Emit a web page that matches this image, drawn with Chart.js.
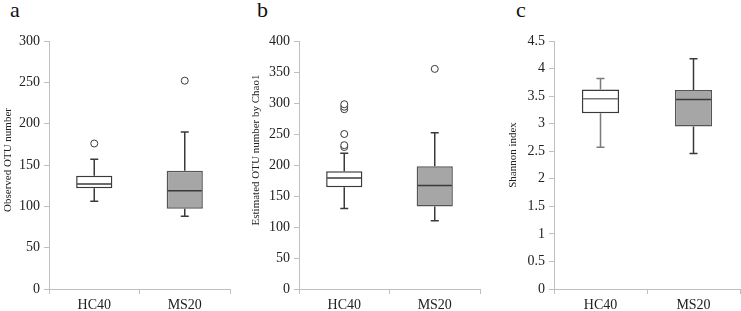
<!DOCTYPE html>
<html><head><meta charset="utf-8">
<script src="https://cdn.jsdelivr.net/npm/chart.js@4"></script>
<style>
html,body{margin:0;padding:0;background:#fff;}
body{width:741px;height:311px;position:relative;overflow:hidden;}
.pane{position:absolute;top:0;height:311px;}
.letter{position:absolute;top:-1px;font:22px/22px 'Liberation Serif',serif;color:#111;}
</style></head><body>
<div class="letter" style="left:10px">a</div>
<div class="letter" style="left:257px">b</div>
<div class="letter" style="left:516px">c</div>
<div class="pane" style="left:0;width:245px"><canvas id="c1" width="245" height="311"></canvas></div>
<div class="pane" style="left:245px;width:250px"><canvas id="c2" width="250" height="311"></canvas></div>
<div class="pane" style="left:500px;width:241px"><canvas id="c3" width="241" height="311"></canvas></div>
<script>
const categories = ['HC40', 'MS20'];

const otuMin = [106, 88];
const otuQ1 = [122, 97];
const otuMedian = [127, 119];
const otuQ3 = [137, 143];
const otuMax = [157, 190];
const otuOutliers = [[176], [252]];
const otuTicks = [0, 50, 100, 150, 200, 250, 300];

const chaoMin = [130, 110];
const chaoQ1 = [164, 133];
const chaoMedian = [179, 167];
const chaoQ3 = [190, 198];
const chaoMax = [219, 252];
const chaoOutliers = [[229, 232, 250, 290, 294, 298], [355]];
const chaoTicks = [0, 50, 100, 150, 200, 250, 300, 350, 400];

const shannonMin = [2.57, 2.46];
const shannonQ1 = [3.19, 2.95];
const shannonMedian = [3.45, 3.44];
const shannonQ3 = [3.62, 3.61];
const shannonMax = [3.82, 4.18];
const shannonOutliers = [[], []];
const shannonTicks = [0, 0.5, 1, 1.5, 2, 2.5, 3, 3.5, 4, 4.5];

const AXIS = '#bfbfbf';
const TEXT = '#222222';
const FONT = "'Liberation Serif', 'Times New Roman', serif";

function boxPlugin(st, title, titleX, titleY, whiskerColors) {
  return {
    id: 'boxparts',
    afterDatasetsDraw(chart) {
      const ctx = chart.ctx, xs = chart.scales.x, ys = chart.scales.y;
      const meta = chart.getDatasetMeta(0);
      ctx.save();
      ctx.lineWidth = 1.5;
      const cap = 4;
      st.median.forEach((m, i) => {
        const bar = meta.data[i];
        const cx = xs.getPixelForValue(i);
        const half = bar.width / 2;
        const yq3 = ys.getPixelForValue(st.q3[i]);
        const yq1 = ys.getPixelForValue(st.q1[i]);
        const yMax = ys.getPixelForValue(st.max[i]);
        const yMin = ys.getPixelForValue(st.min[i]);
        const yMed = ys.getPixelForValue(m);
        ctx.strokeStyle = whiskerColors[i];
        ctx.beginPath();
        ctx.moveTo(cx, yq3); ctx.lineTo(cx, yMax);
        ctx.moveTo(cx - cap, yMax); ctx.lineTo(cx + cap, yMax);
        ctx.moveTo(cx, yq1); ctx.lineTo(cx, yMin);
        ctx.moveTo(cx - cap, yMin); ctx.lineTo(cx + cap, yMin);
        ctx.stroke();
        ctx.beginPath();
        ctx.moveTo(cx - half + 1, yMed); ctx.lineTo(cx + half - 1, yMed);
        ctx.stroke();
      });
      ctx.translate(titleX, titleY);
      ctx.rotate(-Math.PI / 2);
      ctx.font = "11px " + FONT;
      ctx.fillStyle = TEXT;
      ctx.textAlign = 'center';
      ctx.textBaseline = 'middle';
      ctx.fillText(title, 0, 0);
      ctx.restore();
    }
  };
}

function makeChart(id, st, ticks, title, lay) {
  const outPts = [];
  st.outliers.forEach((arr, i) => arr.forEach(v => outPts.push({x: categories[i], y: v})));
  new Chart(document.getElementById(id), {
    type: 'bar',
    data: {
      labels: categories,
      datasets: [{
        data: st.q1.map((v, i) => [v, st.q3[i]]),
        backgroundColor: ['#ffffff', '#a6a6a6'],
        borderColor: ['#3a3a3a', '#555555'],
        borderWidth: 1.5,
        borderSkipped: false,
        barPercentage: 0.4,
        categoryPercentage: 1
      }, {
        type: 'line',
        data: outPts,
        showLine: false,
        pointRadius: 3.5,
        pointBorderWidth: 1,
        pointBorderColor: '#3a3a3a',
        pointBackgroundColor: '#ffffff'
      }]
    },
    options: {
      responsive: false,
      animation: false,
      layout: {padding: {top: 41, right: lay.padRight, left: 0, bottom: 0}},
      plugins: {legend: {display: false}, tooltip: {enabled: false}},
      scales: {
        x: {
          type: 'category',
          offset: true,
          grid: {display: true, drawOnChartArea: false, drawTicks: true, tickLength: 5, offset: true, color: AXIS, lineWidth: 1},
          border: {display: true, color: AXIS, width: 1},
          ticks: {font: {family: FONT, size: 14}, color: TEXT, padding: 3, maxRotation: 0},
          afterFit(s) { s.height = 22; }
        },
        y: {
          min: 0,
          max: ticks[ticks.length - 1],
          afterBuildTicks(s) { s.ticks = ticks.map(v => ({value: v})); },
          grid: {drawOnChartArea: false, drawTicks: true, tickLength: 5, color: AXIS, lineWidth: 1},
          border: {display: true, color: AXIS, width: 1},
          ticks: {font: {family: FONT, size: 14}, color: TEXT, padding: 4, callback: v => String(v)},
          afterFit(s) { s.width = lay.axisWidth; }
        }
      }
    },
    plugins: [boxPlugin(st, title, lay.titleX, lay.titleY, lay.whisker)]
  });
}

makeChart('c1', {min: otuMin, q1: otuQ1, median: otuMedian, q3: otuQ3, max: otuMax, outliers: otuOutliers},
  otuTicks, 'Observed OTU number', {axisWidth: 49, padRight: 15, titleX: 8, titleY: 160, whisker: ['#3a3a3a', '#3a3a3a']});
makeChart('c2', {min: chaoMin, q1: chaoQ1, median: chaoMedian, q3: chaoQ3, max: chaoMax, outliers: chaoOutliers},
  chaoTicks, 'Estimated OTU number by Chao1', {axisWidth: 54, padRight: 15, titleX: 11, titleY: 150, whisker: ['#3a3a3a', '#3a3a3a']});
makeChart('c3', {min: shannonMin, q1: shannonQ1, median: shannonMedian, q3: shannonQ3, max: shannonMax, outliers: shannonOutliers},
  shannonTicks, 'Shannon index', {axisWidth: 54, padRight: 1, titleX: 13, titleY: 155, whisker: ['#7a7a7a', '#3a3a3a']});
</script>
</body></html>
